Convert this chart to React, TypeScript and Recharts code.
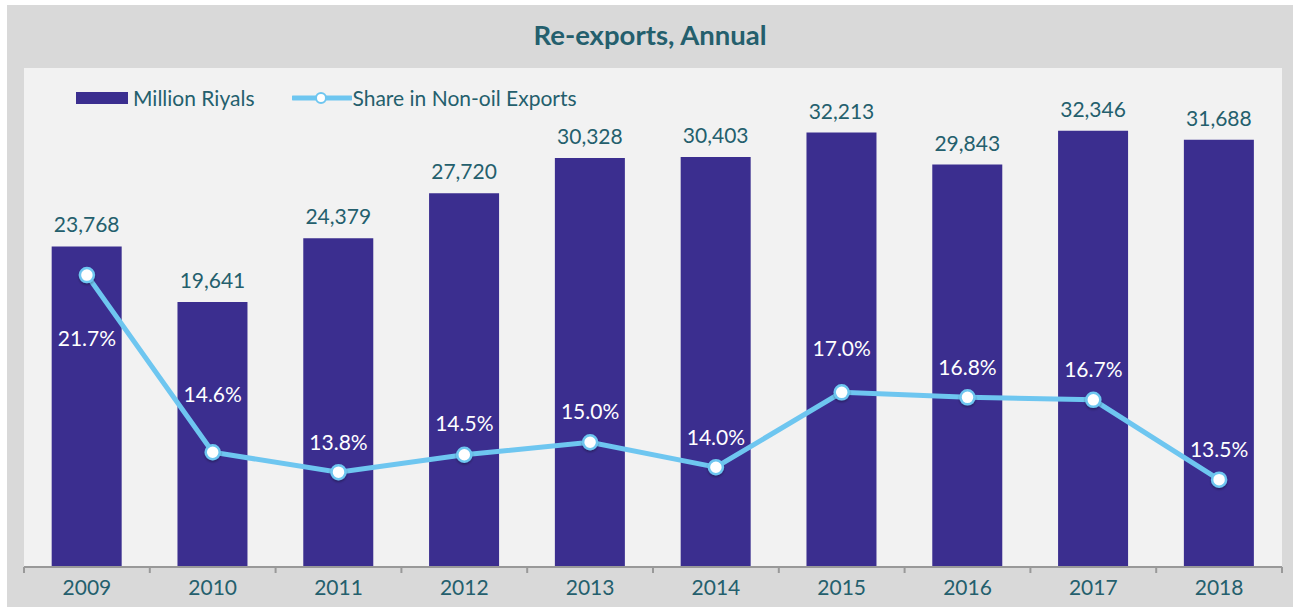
import React from "react";
import {
  Bar,
  CartesianGrid,
  ComposedChart,
  LabelList,
  Line,
  XAxis,
  YAxis,
} from "recharts";

const years = ["2009", "2010", "2011", "2012", "2013", "2014", "2015", "2016", "2017", "2018"];
const millionRiyals = [23768, 19641, 24379, 27720, 30328, 30403, 32213, 29843, 32346, 31688];
const shareNonOil = [21.7, 14.6, 13.8, 14.5, 15.0, 14.0, 17.0, 16.8, 16.7, 13.5];

const BAR_COLOR = "#3b2e8f";
const LINE_COLOR = "#6ec6f0";
const TEXT_COLOR = "#245f6d";
const AXIS_COLOR = "#999999";
const FONT = "Lato, 'Noto Sans', sans-serif";

const W = 1286;
const H = 602;
const MARGIN = { top: 63, right: 11, left: 17, bottom: 0 };
const BAND = (W - MARGIN.left - MARGIN.right) / years.length;
const TICK_SIZE = 6;

// vertical offset of each share label relative to its dot (negative = above)
const shareLabelDy = [62, -59, -31, -32, -32, -31, -45, -31, -31, -31];

const data = years.map((year, i) => ({
  year,
  riyals: millionRiyals[i],
  share: shareNonOil[i],
}));

const fmt = (v: number) => v.toLocaleString("en-US");

function YearTick(props: any) {
  const { x, y, payload, index } = props;
  const axisY = y - TICK_SIZE - 2;
  const left = x - BAND / 2;
  const right = x + BAND / 2;
  return (
    <g>
      <line x1={left} y1={axisY} x2={left} y2={axisY + TICK_SIZE} stroke={AXIS_COLOR} strokeWidth={2} />
      {index === years.length - 1 && (
        <line x1={right} y1={axisY} x2={right} y2={axisY + TICK_SIZE} stroke={AXIS_COLOR} strokeWidth={2} />
      )}
      <text
        x={x}
        y={y + 11}
        fill={TEXT_COLOR}
        fontSize={21}
        fontFamily={FONT}
        textAnchor="middle"
        dominantBaseline="central"
      >
        {payload.value}
      </text>
    </g>
  );
}

function ShareLabel(props: any) {
  const { x, y, value, index } = props;
  return (
    <text
      x={x}
      y={y + shareLabelDy[index]}
      fill="#ffffff"
      fontSize={21}
      fontFamily={FONT}
      textAnchor="middle"
      dominantBaseline="central"
    >
      {value.toFixed(1)}%
    </text>
  );
}

function ShareDot(props: any) {
  const { cx, cy } = props;
  return (
    <circle
      cx={cx}
      cy={cy}
      r={7}
      fill="#ffffff"
      stroke={LINE_COLOR}
      strokeWidth={2.5}
      filter="url(#dotShadow)"
    />
  );
}

export default function App() {
  return (
    <div style={{ position: "absolute", left: 7, top: 5, width: W, height: H, background: "#d9d9d9", fontFamily: FONT }}>
      <div
        style={{
          position: "absolute",
          top: 13,
          left: 0,
          width: W,
          textAlign: "center",
          fontSize: 27.5,
          fontWeight: 700,
          color: TEXT_COLOR,
        }}
      >
        Re-exports, Annual
      </div>
      <ComposedChart width={W} height={H} data={data} margin={MARGIN} barCategoryGap="22%">
        <defs>
          <filter id="dotShadow" x="-50%" y="-50%" width="200%" height="200%">
            <feDropShadow dx={0} dy={1.5} stdDeviation={1.2} floodColor="#000" floodOpacity={0.35} />
          </filter>
        </defs>
        <CartesianGrid fill="#f2f2f2" horizontal={false} vertical={false} />
        <XAxis
          dataKey="year"
          height={40}
          tickLine={false}
          tickSize={TICK_SIZE}
          axisLine={{ stroke: AXIS_COLOR, strokeWidth: 2 }}
          tick={<YearTick />}
          interval={0}
        />
        <YAxis yAxisId="left" hide domain={[0, 37000]} />
        <YAxis yAxisId="right" hide orientation="right" domain={[10, 30]} />
        <Bar yAxisId="left" dataKey="riyals" fill={BAR_COLOR} isAnimationActive={false}>
          <LabelList
            dataKey="riyals"
            position="top"
            offset={14}
            formatter={(v: any) => fmt(Number(v))}
            style={{ fill: TEXT_COLOR, fontSize: 21, fontFamily: FONT }}
          />
        </Bar>
        <Line
          yAxisId="right"
          dataKey="share"
          type="linear"
          stroke={LINE_COLOR}
          strokeWidth={5}
          dot={<ShareDot />}
          activeDot={false}
          isAnimationActive={false}
        >
          <LabelList dataKey="share" content={<ShareLabel />} />
        </Line>
      </ComposedChart>
      <div
        style={{
          position: "absolute",
          top: 80,
          left: 69,
          display: "flex",
          alignItems: "center",
          fontSize: 21,
          color: TEXT_COLOR,
        }}
      >
        <div style={{ width: 52, height: 12, background: BAR_COLOR, marginRight: 5 }} />
        <span>Million Riyals</span>
        <svg width={60} height={14} style={{ marginLeft: 37, marginRight: 1 }}>
          <line x1={1} y1={7} x2={59} y2={7} stroke={LINE_COLOR} strokeWidth={5} strokeLinecap="round" />
          <circle cx={29} cy={7} r={5} fill="#ffffff" stroke={LINE_COLOR} strokeWidth={2} />
        </svg>
        <span>Share in Non-oil Exports</span>
      </div>
    </div>
  );
}
